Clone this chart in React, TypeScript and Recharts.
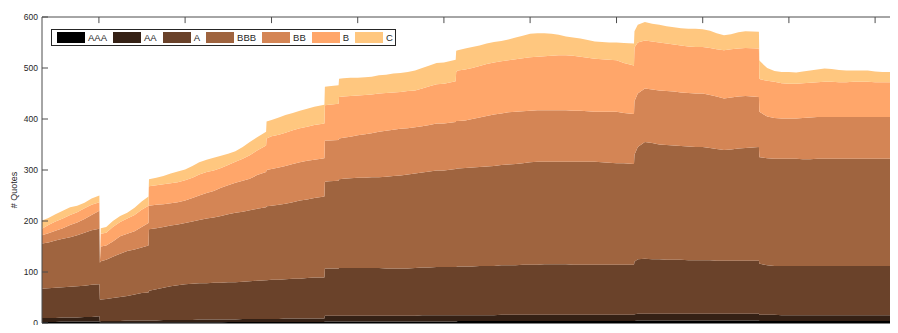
import { AreaChart, Area, XAxis, YAxis, Legend, ReferenceLine } from 'recharts';

// sample dates (extra points around the steps in the quote counts)
const dates = [
  '2002-05-05', '2002-06-01', '2002-07-01', '2002-08-01', '2002-09-01', '2002-10-01', '2002-11-01', '2002-12-01',
  '2003-01-03', '2003-01-05', '2003-01-09', '2003-02-01', '2003-03-01', '2003-04-01', '2003-05-01', '2003-06-01',
  '2003-07-01', '2003-07-30', '2003-08-01', '2003-09-01', '2003-10-01', '2003-11-01', '2003-12-01',
  '2004-01-01', '2004-02-01', '2004-03-01', '2004-04-01', '2004-05-01', '2004-06-01', '2004-07-01', '2004-08-01',
  '2004-09-01', '2004-10-01', '2004-11-01', '2004-12-09', '2004-12-11',
  '2005-01-01', '2005-02-01', '2005-03-01', '2005-04-01', '2005-05-01', '2005-06-01', '2005-07-01', '2005-08-13',
  '2005-08-15', '2005-09-01', '2005-10-12', '2005-10-14', '2005-11-01', '2005-12-01',
  '2006-01-01', '2006-02-01', '2006-03-01', '2006-04-01', '2006-05-01', '2006-06-01', '2006-07-01', '2006-08-01',
  '2006-09-01', '2006-10-01', '2006-11-01', '2006-12-01',
  '2007-01-01', '2007-02-20', '2007-02-22', '2007-03-01', '2007-04-01', '2007-05-01', '2007-06-01', '2007-07-01',
  '2007-08-01', '2007-09-01', '2007-10-01', '2007-11-01', '2007-12-01',
  '2008-01-01', '2008-02-01', '2008-03-01', '2008-04-01', '2008-05-01', '2008-06-01', '2008-07-01', '2008-08-01',
  '2008-09-01', '2008-10-01', '2008-11-01', '2008-12-01',
  '2009-01-01', '2009-02-01', '2009-03-16', '2009-03-18', '2009-04-01', '2009-05-01', '2009-06-01', '2009-07-01',
  '2009-08-01', '2009-09-01', '2009-10-01', '2009-11-01', '2009-12-01',
  '2010-01-01', '2010-02-01', '2010-03-01', '2010-04-01', '2010-05-01', '2010-06-01', '2010-07-01', '2010-08-27',
  '2010-08-29', '2010-09-01', '2010-10-01', '2010-11-01', '2010-12-01',
  '2011-01-01', '2011-02-01', '2011-03-01', '2011-04-01', '2011-05-01', '2011-06-01', '2011-07-01', '2011-08-01',
  '2011-09-01', '2011-10-01', '2011-11-01', '2011-12-01',
  '2012-01-01', '2012-02-01', '2012-03-01', '2012-04-07',
];

// number of quotes per rating bucket
const quotesAAA = [
  2, 2, 2, 3, 3, 3, 3, 3,
  3, 1, 1, 1, 1, 1, 1, 1, 1, 1, 1, 1, 1, 1, 1,
  1, 1, 1, 1, 1, 1, 2, 2, 2, 2, 2, 2, 2,
  2, 2, 2, 2, 2, 2, 2, 2, 3, 3, 3, 3, 3, 3,
  3, 3, 3, 3, 3, 3, 3, 3, 3, 3, 3, 3,
  3, 3, 3, 4, 4, 4, 4, 4, 4, 4, 4, 4, 4,
  4, 4, 4, 4, 4, 4, 4, 4, 4, 4, 4, 4,
  4, 4, 4, 4, 5, 5, 5, 5, 5, 5, 5, 5, 5,
  5, 5, 5, 5, 5, 5, 5, 5, 4, 4, 4, 4, 4,
  4, 4, 4, 4, 4, 4, 4, 4, 4, 4, 4, 4,
  4, 4, 4, 4,
];
const quotesAA = [
  8, 8, 8, 8, 8, 8, 9, 9,
  10, 2, 3, 3, 3, 3, 4, 4, 4, 4, 4, 4, 5, 5, 5,
  5, 5, 6, 6, 6, 6, 5, 5, 6, 6, 6, 6, 6,
  6, 6, 7, 7, 7, 7, 7, 7, 11, 11, 11, 11, 11, 11,
  11, 11, 11, 11, 11, 11, 11, 11, 11, 12, 12, 12,
  12, 12, 12, 11, 11, 11, 11, 11, 11, 12, 12, 12, 12,
  12, 12, 12, 12, 12, 12, 12, 12, 12, 12, 12, 12,
  12, 12, 12, 13, 13, 13, 13, 13, 13, 13, 13, 13, 13,
  13, 13, 13, 13, 13, 13, 13, 13, 12, 12, 12, 12, 11,
  11, 11, 11, 11, 11, 11, 11, 11, 11, 11, 11, 11,
  11, 11, 11, 11,
];
const quotesA = [
  57, 58, 59, 59, 60, 61, 61, 63,
  63, 43, 42, 43, 45, 47, 48, 51, 54, 55, 58, 61, 63, 66, 68,
  70, 71, 71, 71, 72, 72, 73, 73, 73, 74, 75, 76, 76,
  77, 77, 77, 78, 78, 79, 80, 80, 93, 93, 93, 94, 94, 94,
  94, 94, 94, 94, 93, 93, 93, 93, 94, 94, 94, 95,
  95, 95, 95, 96, 96, 96, 97, 97, 97, 97, 97, 97, 98,
  98, 98, 99, 99, 99, 99, 98, 98, 98, 98, 98, 98,
  98, 98, 98, 103, 107, 108, 107, 107, 106, 106, 106, 105, 105,
  105, 105, 104, 104, 104, 104, 104, 104, 100, 100, 97, 96, 97,
  97, 97, 97, 97, 97, 97, 97, 97, 97, 97, 97, 97,
  97, 97, 97, 97,
];
const quotesBBB = [
  89, 90, 93, 95, 97, 100, 104, 107,
  109, 72, 75, 77, 81, 85, 88, 88, 89, 92, 121, 120, 119, 119, 119,
  120, 122, 124, 127, 128, 131, 133, 136, 137, 139, 141, 143, 145,
  145, 147, 148, 150, 153, 154, 156, 159, 170, 171, 172, 174, 175, 176,
  177, 177, 178, 178, 180, 181, 182, 184, 185, 186, 188, 189,
  189, 192, 193, 192, 193, 194, 194, 195, 196, 197, 198, 199, 199,
  201, 202, 201, 201, 201, 201, 202, 202, 202, 202, 201, 200,
  199, 199, 198, 210, 220, 229, 228, 225, 225, 224, 223, 223, 222,
  222, 220, 219, 217, 218, 220, 221, 223, 209, 209, 210, 210, 210,
  210, 210, 209, 209, 210, 210, 210, 210, 210, 210, 210, 210,
  210, 210, 210, 210,
];
const quotesBB = [
  16, 18, 19, 21, 24, 25, 27, 30,
  35, 1, 29, 28, 30, 34, 34, 36, 40, 44, 46, 46, 45, 44, 44,
  44, 46, 48, 50, 52, 55, 57, 59, 61, 62, 66, 69, 71,
  72, 73, 74, 75, 75, 76, 75, 75, 81, 80, 80, 80, 80, 81,
  83, 85, 86, 89, 90, 91, 92, 91, 91, 91, 91, 92,
  92, 92, 93, 93, 93, 95, 97, 99, 101, 101, 102, 102, 102,
  101, 101, 101, 101, 101, 101, 100, 100, 99, 98, 99, 100,
  101, 99, 98, 105, 105, 105, 105, 106, 106, 106, 105, 105, 105,
  105, 104, 103, 101, 102, 102, 102, 98, 89, 88, 82, 80, 79,
  79, 79, 81, 82, 82, 82, 82, 82, 82, 82, 82, 82,
  82, 82, 82, 82,
];
const quotesB = [
  13, 16, 18, 19, 20, 20, 21, 20,
  17, 1, 25, 25, 28, 28, 30, 32, 34, 34, 38, 38, 39, 39, 39,
  40, 40, 41, 41, 40, 39, 40, 41, 43, 46, 48, 52, 62,
  64, 64, 65, 66, 67, 67, 68, 68, 69, 70, 71, 81, 81, 80,
  78, 77, 76, 75, 74, 73, 72, 73, 72, 74, 76, 77,
  78, 80, 96, 99, 100, 100, 101, 102, 102, 102, 102, 103, 104,
  105, 105, 106, 107, 108, 108, 108, 106, 105, 104, 103, 102,
  101, 98, 95, 105, 100, 94, 94, 94, 93, 92, 92, 91, 91,
  91, 92, 93, 95, 95, 94, 94, 95, 65, 65, 70, 71, 69,
  68, 68, 68, 68, 68, 69, 69, 68, 68, 69, 69, 69,
  68, 68, 68, 68,
];
const quotesC = [
  16, 14, 14, 15, 15, 13, 11, 12,
  13, 1, 11, 11, 12, 12, 11, 14, 16, 18, 14, 15, 16, 19, 21,
  21, 23, 24, 24, 25, 24, 22, 21, 23, 26, 26, 27, 33,
  32, 34, 35, 34, 34, 35, 36, 37, 36, 36, 36, 36, 36, 36,
  35, 35, 35, 36, 36, 37, 37, 37, 39, 40, 41, 42,
  42, 42, 42, 40, 41, 41, 40, 40, 40, 40, 41, 43, 44,
  46, 46, 45, 43, 40, 37, 36, 36, 35, 34, 34, 34,
  35, 39, 43, 32, 35, 36, 35, 35, 34, 34, 34, 35, 36,
  35, 34, 31, 29, 29, 32, 33, 33, 36, 35, 25, 21, 22,
  23, 22, 23, 24, 25, 26, 25, 24, 23, 22, 22, 22,
  21, 20, 20, 20,
];

const ratings = ['AAA', 'AA', 'A', 'BBB', 'BB', 'B', 'C'];
const quotes = [quotesAAA, quotesAA, quotesA, quotesBBB, quotesBB, quotesB, quotesC];
// copper colormap, 7 levels
const copper = ['#000000', '#352115', '#6a422a', '#9f643f', '#d48555', '#ffa66a', '#ffc77f'];

const tickYears = [2003, 2004, 2005, 2006, 2007, 2008, 2009, 2010, 2011, 2012];
const yTicks = [0, 100, 200, 300, 400, 500, 600];
const Y_MAX = 600;
const TOP_TICK = 12; // inward tick length on the top edge, in quote units (~6px)

const toTime = (d: string) => {
  const [y, m, day] = d.split('-').map(Number);
  return Date.UTC(y, m - 1, day);
};

const rows = dates.map((d, i) => {
  const row: Record<string, number> = { t: toTime(d) };
  ratings.forEach((r, k) => { row[r] = quotes[k][i]; });
  return row;
});

const xTicks = tickYears.map((y) => Date.UTC(y, 0, 1));
const xDomain = [toTime('2002-05-05'), toTime('2012-04-07')];

const FONT = '"Liberation Sans", Arial, Helvetica, sans-serif';
const tickStyle = { fontSize: 8.5, fill: '#262626', fontFamily: FONT };
const AXIS = '#4d4d4d';

const fmtJan = (v: number) => 'Jan ' + String(new Date(v).getUTCFullYear()).slice(2);

function RatingLegend() {
  return (
    <div
      style={{
        display: 'inline-flex', alignItems: 'center', background: '#fff',
        border: '1px solid #262626', padding: '2px 2px 2px 5px',
        fontFamily: FONT, fontSize: 9.5, lineHeight: '11px', color: '#262626',
      }}
    >
      {ratings.map((r, i) => (
        <div key={r} style={{ display: 'flex', alignItems: 'center', marginRight: i < ratings.length - 1 ? 6 : 0 }}>
          <span style={{ display: 'inline-block', width: 28, height: 11, background: copper[i], marginRight: 3 }} />
          <span>{r}</span>
        </div>
      ))}
    </div>
  );
}

function YTitle(props: any) {
  const vb = props.viewBox || { x: 0, y: 17, width: 42, height: 306 };
  const cx = vb.x + 14;
  const cy = vb.y + vb.height / 2 + 20;
  return (
    <text x={cx} y={cy} transform={`rotate(-90 ${cx} ${cy})`} textAnchor="middle"
      dominantBaseline="central" fontSize={9} fill="#262626" fontFamily={FONT}>
      # Quotes
    </text>
  );
}

export default function App() {
  return (
    <div style={{ margin: -8, width: 898, height: 333, background: '#fff' }}>
      <AreaChart width={898} height={333} data={rows} margin={{ top: 17, right: 0, bottom: 0, left: 0 }}>
        <XAxis
          dataKey="t" type="number" domain={xDomain} ticks={xTicks} tickFormatter={fmtJan}
          height={10} tickLine={false} tickSize={0} tickMargin={3} tick={tickStyle}
          axisLine={{ stroke: '#000' }} allowDataOverflow
        />
        <YAxis
          type="number" domain={[0, Y_MAX]} ticks={yTicks} width={42} tickSize={-6} tickMargin={10}
          tick={tickStyle} axisLine={{ stroke: AXIS }} tickLine={{ stroke: AXIS }}
          label={<YTitle />}
        />
        <Legend
          verticalAlign="middle" align="center" layout="horizontal"
          wrapperStyle={{ top: 29, left: 51, width: 'auto' }}
          content={() => <RatingLegend />}
        />
        {ratings.map((r, i) => (
          <Area
            key={r} type="linear" dataKey={r} name={r} stackId="quotes"
            fill={copper[i]} fillOpacity={1} stroke="none"
            dot={false} activeDot={false} isAnimationActive={false}
          />
        ))}
        {/* top frame edge with inward year ticks */}
        <ReferenceLine y={Y_MAX} stroke={AXIS} strokeWidth={1} />
        {xTicks.map((t) => (
          <ReferenceLine key={t} segment={[{ x: t, y: Y_MAX }, { x: t, y: Y_MAX - TOP_TICK }]} stroke={AXIS} />
        ))}
      </AreaChart>
    </div>
  );
}
